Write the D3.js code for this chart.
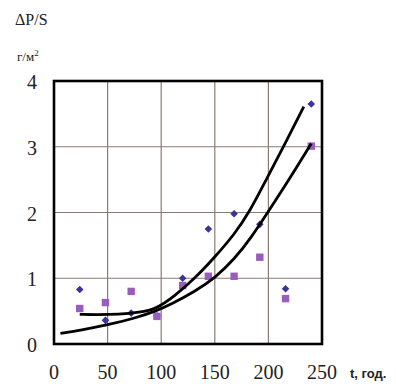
<!DOCTYPE html>
<html><head><meta charset="utf-8">
<script src="https://cdn.jsdelivr.net/npm/d3@7"></script>
<style>
body{margin:0;background:#fff;}
svg{display:block;}
svg text{font-family:"Liberation Serif";}
svg text.sans{font-family:"Liberation Sans";}
</style>
</head><body>
<svg id="c" width="396" height="386" font-family="Liberation Serif"></svg>
<script>
// Data
const tValues = [24, 48, 72, 96, 120, 144, 168, 192, 216, 240];
const seriesDiamond = [0.83, 0.36, 0.47, 0.43, 1.0, 1.75, 1.98, 1.82, 0.84, 3.65];
const seriesSquare  = [0.54, 0.63, 0.80, 0.42, 0.89, 1.03, 1.03, 1.32, 0.69, 3.01];
const trendUpperX = [24, 40, 60, 80, 95, 112, 131.5, 150, 168.8, 182, 198, 214, 233];
const trendUpperY = [0.45, 0.445, 0.45, 0.48, 0.53, 0.72, 1.0, 1.32, 1.68, 2.0, 2.5, 3.0, 3.61];
const trendLowerX = [6, 25, 50, 75, 95, 110, 131.5, 150, 168.8, 184, 199.3, 220, 240];
const trendLowerY = [0.16, 0.21, 0.29, 0.39, 0.50, 0.61, 0.80, 1.0, 1.30, 1.62, 2.0, 2.52, 3.05];
const xTicks = [0, 50, 100, 150, 200, 250];
const yTicks = [0, 1, 2, 3, 4];
const xGrid = [50, 100, 150, 200];
const yGrid = [1, 2, 3];

const svg = d3.select("#c");
const L = 54, R = 322, T = 81, B = 344;
const x = d3.scaleLinear().domain([0, 250]).range([L, R]);
const y = d3.scaleLinear().domain([0, 4]).range([B, T]);

// grid
svg.append("g").selectAll("line").data(xGrid).join("line")
  .attr("x1", d => x(d)).attr("x2", d => x(d)).attr("y1", T).attr("y2", B)
  .attr("stroke", "#8c7b73").attr("stroke-width", 1.2);
svg.append("g").selectAll("line").data(yGrid).join("line")
  .attr("x1", L).attr("x2", R).attr("y1", d => y(d)).attr("y2", d => y(d))
  .attr("stroke", "#8c7b73").attr("stroke-width", 1.2);

// markers: diamonds
svg.append("g").selectAll("path").data(tValues.map((t, i) => [t, seriesDiamond[i]])).join("path")
  .attr("transform", d => `translate(${x(d[0])},${y(d[1])})`)
  .attr("d", "M0,-3.8L3.8,0L0,3.8L-3.8,0Z")
  .attr("fill", "#3b3497");
// squares
svg.append("g").selectAll("rect").data(tValues.map((t, i) => [t, seriesSquare[i]])).join("rect")
  .attr("x", d => x(d[0]) - 3.7).attr("y", d => y(d[1]) - 3.7)
  .attr("width", 7.4).attr("height", 7.4)
  .attr("fill", "#9a5cbd");

// trend lines
const line = d3.line().x(d => x(d[0])).y(d => y(d[1])).curve(d3.curveBasis);
svg.append("path").datum(trendUpperX.map((v, i) => [v, trendUpperY[i]]))
  .attr("d", line).attr("fill", "none").attr("stroke", "#000").attr("stroke-width", 2.8);
svg.append("path").datum(trendLowerX.map((v, i) => [v, trendLowerY[i]]))
  .attr("d", line).attr("fill", "none").attr("stroke", "#000").attr("stroke-width", 2.8);

// frame
svg.append("rect").attr("x", L).attr("y", T).attr("width", R - L).attr("height", B - T)
  .attr("fill", "none").attr("stroke", "#000").attr("stroke-width", 2.6);

// axes labels
svg.selectAll("text.xl").data(xTicks).join("text")
  .attr("class", "xl")
  .attr("x", d => x(d)).attr("y", 379)
  .attr("text-anchor", "middle")
  .attr("font-size", 20)
  .attr("fill", "#222").text(d => d);
svg.selectAll("text.yl").data(yTicks).join("text")
  .attr("class", "yl")
  .attr("x", 32).attr("y", d => y(d) + 8)
  .attr("text-anchor", "middle")
  .attr("font-size", 20)
  .attr("fill", "#222").text(d => d);

svg.append("text").attr("x", 15).attr("y", 25)
  .attr("font-size", 16)
  .attr("fill", "#222").text("ΔP/S");
const u = svg.append("text").attr("x", 17).attr("y", 61)
  .attr("font-size", 13)
  .attr("fill", "#222");
u.append("tspan").text("г/м");
u.append("tspan").attr("dy", -5).attr("font-size", 9).text("2");

svg.append("text").attr("class", "sans").attr("x", 350).attr("y", 378)
  .attr("font-size", 13).attr("font-weight", "bold")
  .attr("fill", "#222").text("t, год.");
</script>
</body></html>
